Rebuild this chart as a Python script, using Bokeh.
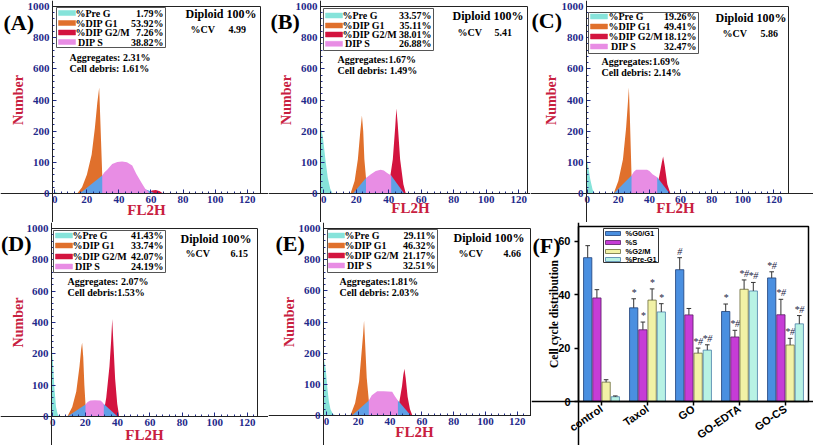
import numpy as np
from bokeh.plotting import figure
from bokeh.layouts import row, column
from bokeh.models import Label, BoxAnnotation, FixedTicker, ColumnDataSource
from bokeh.core.properties import value
from bokeh.embed import file_html
from bokeh.resources import INLINE

SERIF = "Liberation Serif"
SANS = "Liberation Sans"

# ---------------- data ----------------
# histogram y-axis: equally spaced ticks carrying these counts
Y_TICK_COUNTS = [0, 100, 200, 400, 600, 800, 1000]
X_TICKS = [0, 20, 40, 60, 80, 100, 120]

# Panel A
A_PREG_X = [0, 1, 2.5]
A_PREG_N = [6, 3, 0]
A_G1_X = [14, 17, 20, 23, 25, 26.5, 27.7, 28.3, 29.6]
A_G1_N = [0, 20, 60, 125, 220, 380, 480, 300, 58]
A_G2_X = [58.6, 60.5, 63, 65.5, 67.5]
A_G2_N = [0, 10, 11, 7, 0]
A_BASE_X = [15.5, 29.6, 58.6, 62.5]
A_BASE_N = [0, 58, 10, 0]
A_S_X = [29.6, 31, 32.7, 35.8, 39, 42, 45, 48.3, 50.8, 53.9, 56.4, 58.6]
A_S_N = [58, 68, 76, 95, 101, 103, 100, 90, 63, 36, 15, 6]

# Panel B
B_PREG_X = [-2, -0.5, 1, 2.5, 4, 5.5]
B_PREG_N = [235, 180, 110, 50, 15, 0]
B_G1_X = [16.5, 19, 21, 22.5, 23.5, 24.3, 25, 26]
B_G1_N = [0, 40, 110, 200, 300, 200, 110, 50]
B_G2_X = [38, 40.5, 42.5, 44, 44.7, 45.5, 47, 49, 50.5]
B_G2_N = [0, 40, 110, 230, 345, 250, 110, 30, 0]
B_BASE_X = [18, 26, 41.5, 49.5]
B_BASE_N = [0, 50, 58, 0]
B_S_X = [26, 29, 32, 35, 37, 39, 41.5]
B_S_N = [50, 62, 72, 76, 74, 66, 58]

# Panel C
C_PREG_X = [-0.5, 0.5, 2, 3.5, 5]
C_PREG_N = [120, 90, 45, 12, 0]
C_G1_X = [17, 20, 23, 25, 26, 26.8, 27.4, 28.5]
C_G1_N = [0, 40, 110, 220, 360, 480, 300, 58]
C_G2_X = [44, 46.5, 48, 48.8, 49.8, 51.5, 53.5]
C_G2_N = [0, 60, 100, 119, 90, 30, 0]
C_BASE_X = [17, 28.5, 45, 53]
C_BASE_N = [0, 58, 52, 0]
C_S_X = [28.5, 30, 31.5, 35, 38.5, 40, 42, 45]
C_S_N = [58, 70, 76, 76, 76, 72, 62, 52]

# Panel D
D_PREG_X = [-0.8, 0, 1, 2, 3, 4]
D_PREG_N = [270, 180, 90, 30, 8, 0]
D_G1_X = [9, 12, 14.5, 16.5, 17.5, 18.1, 18.8, 19.5, 20.2]
D_G1_N = [0, 30, 80, 160, 230, 272, 190, 100, 38]
D_G2_X = [31, 33, 35, 36, 36.7, 37.5, 38.5, 39.8, 41]
D_G2_N = [0, 60, 160, 280, 422, 250, 120, 40, 0]
D_BASE_X = [9, 20.2, 31.5, 40]
D_BASE_N = [0, 38, 40, 0]
D_S_X = [20.2, 21.5, 23.2, 26, 29.4, 30.5, 31.5]
D_S_N = [38, 46, 51, 52, 51, 46, 40]

# Panel E
E_PREG_X = [-1.9, -0.5, 0.5, 1.5, 2.5, 4, 6]
E_PREG_N = [185, 150, 90, 45, 20, 5, 0]
E_G1_X = [15, 18, 20.5, 22, 23, 23.6, 24.3, 25.3, 26.6]
E_G1_N = [0, 40, 110, 200, 320, 410, 260, 120, 48]
E_G2_X = [44, 46, 47.5, 48.3, 49, 49.8, 51, 52.5, 54]
E_G2_N = [0, 50, 95, 130, 150, 120, 60, 20, 0]
E_BASE_X = [16, 26.6, 44.9, 53]
E_BASE_N = [0, 48, 48, 0]
E_S_X = [26.6, 28.5, 31.9, 36, 41.3, 43, 44.9]
E_S_N = [48, 65, 78, 78, 76, 62, 48]

LEGEND_NAMES = ["%Pre G", "%DIP G1", "%DIP G2/M", "\u00a0DIP S"]
A_PCT = ["1.79%", "53.92%", "7.26%", "38.82%"]
B_PCT = ["33.57%", "35.11%", "38.01%", "26.88%"]
C_PCT = ["19.26%", "49.41%", "18.12%", "32.47%"]
D_PCT = ["41.43%", "33.74%", "42.07%", "24.19%"]
E_PCT = ["29.11%", "46.32%", "21.17%", "32.51%"]
CV_VALUES = ["4.99", "5.41", "5.86", "6.15", "4.66"]
AGG_TEXT = ["Aggregates: 2.31%", "Aggregates:1.67%", "Aggregates:1.69%", "Aggregates: 2.07%", "Aggregates:1.81%"]
DEBRIS_TEXT = ["Cell debris: 1.61%", "Cell debris: 1.49%", "Cell debris: 2.14%", "Cell debris:1.53%", "Cell debris: 2.03%"]

# Panel F
CATS = ["control", "Taxol", "GO", "GO-EDTA", "GO-CS"]
SERIES = ["%G0/G1", "%S", "%G2/M", "%Pre-G1"]
G0G1 = [53.92, 35.11, 49.41, 33.74, 46.32]
S_PH = [38.82, 26.88, 32.47, 24.19, 32.51]
G2M = [7.26, 38.01, 18.12, 42.07, 21.17]
PREG1 = [1.79, 33.57, 19.26, 41.43, 29.11]
G0G1_ERR = [4.5, 3.4, 4.5, 2.8, 2.3]
S_ERR = [3.1, 2.9, 2.4, 2.5, 5.8]
G2M_ERR = [0.9, 4.2, 1.9, 3.5, 2.5]
PREG1_ERR = [0.3, 3.1, 2.0, 3.2, 3.1]
G0G1_SIG = ["", "*", "#", "*", "*#"]
S_SIG = ["", "*", "", "*#", "*#"]
G2M_SIG = ["", "*", "*#", "*#", "*#"]
PREG1_SIG = ["", "*", "*#", "*#", "*#"]
F_Y_TICKS = [0, 20, 40, 60]

# ---------------- style ----------------
C_PREG = "#86e3da"
C_G1 = "#e0702c"
C_G2 = "#d3143f"
C_BASE = "#5fa0e6"
C_S = "#e88de4"
NAVY = "#1f2a8a"
CRIMSON = "#c8203f"
BAR_COLORS = ["#4a8fe0", "#c63cd6", "#f2f2a6", "#b8f2e4"]
BAR_LINES = ["#1d3f78", "#5a1a66", "#6b6b3a", "#4a7fa8"]


def disp(n):
    return np.interp(n, Y_TICK_COUNTS, np.arange(len(Y_TICK_COUNTS)))


def make_fig(canvas, box_px, xr_box, yr_box):
    """Figure whose frame is the whole canvas; the plotting box is a sub-region."""
    cx, cy, cw, ch = canvas
    bl, bt, br, bb = box_px
    xs, xe = xr_box
    ys, ye = yr_box
    ux = (xe - xs) / (br - bl)
    uy = (ye - ys) / (bb - bt)
    x_range = (xs - (bl - cx) * ux, xe + (cx + cw - br) * ux)
    y_range = (ys - (cy + ch - bb) * uy, ye + (bt - cy) * uy)
    p = figure(width=cw, height=ch, x_range=x_range, y_range=y_range,
               min_border_left=0, min_border_right=0, min_border_top=0, min_border_bottom=0,
               output_backend="svg", toolbar_location=None)
    p.grid.visible = False
    p.outline_line_color = None
    p.background_fill_color = "white"
    p.border_fill_color = "white"
    p.xaxis.fixed_location = ys
    p.yaxis.fixed_location = xs
    return p


def put(p, canvas, ax, ay, text, size, font=SERIF, color="black", align="left",
        baseline="middle", angle=0.0, style="bold"):
    cx, cy, cw, ch = canvas
    p.add_layout(Label(x=ax - cx, y=cy + ch - ay, x_units="screen", y_units="screen",
                       text=text, text_font=font, text_font_size=f"{size}px",
                       text_font_style=style, text_color=color, text_align=align,
                       text_baseline=baseline, angle=angle))


def box(p, canvas, x0, y0, x1, y1, fill, line="#555555", lw=1):
    cx, cy, cw, ch = canvas
    p.add_layout(BoxAnnotation(left=x0 - cx, right=x1 - cx, top=cy + ch - y0, bottom=cy + ch - y1,
                               left_units="screen", right_units="screen",
                               top_units="screen", bottom_units="screen",
                               fill_color=fill, fill_alpha=1, line_color=line, line_width=lw,
                               line_alpha=1))


def hist_panel(canvas, box_px, xr, comps, pct, idx, letter, lay):
    p = make_fig(canvas, box_px, xr, (0, 6))
    preg_x, preg_n, g1_x, g1_n, g2_x, g2_n, base_x, base_n, s_x, s_n = comps
    p.varea(x=g1_x, y1=0, y2=disp(g1_n), fill_color=C_G1)
    p.varea(x=g2_x, y1=0, y2=disp(g2_n), fill_color=C_G2)
    p.varea(x=base_x, y1=0, y2=disp(base_n), fill_color=C_BASE)
    p.varea(x=s_x, y1=0, y2=disp(s_n), fill_color=C_S)
    p.varea(x=preg_x, y1=0, y2=disp(preg_n), fill_color=C_PREG)
    # plot box outline
    p.add_layout(BoxAnnotation(left=xr[0], right=xr[1], bottom=0, top=6, fill_alpha=0,
                               line_color="#222222", line_width=1, line_alpha=1))

    p.xaxis.ticker = FixedTicker(ticks=X_TICKS, minor_ticks=list(range(0, 128, 4)))
    p.yaxis.ticker = FixedTicker(ticks=list(range(7)),
                                 minor_ticks=[round(v, 2) for v in np.arange(0, 6.01, 0.2)])
    p.yaxis.major_label_overrides = {i: str(v) for i, v in enumerate(Y_TICK_COUNTS)}
    for ax in (p.xaxis[0], p.yaxis[0]):
        ax.axis_line_color = "#222222"
        ax.major_tick_in = 4
        ax.major_tick_out = 0
        ax.minor_tick_in = 2
        ax.minor_tick_out = 0
        ax.major_tick_line_color = NAVY
        ax.minor_tick_line_color = NAVY
        ax.major_label_text_font = SERIF
        ax.major_label_text_font_style = "bold"
        ax.major_label_text_font_size = "11px"
        ax.major_label_text_color = NAVY
    p.xaxis.major_label_standoff = 2
    p.yaxis.major_label_standoff = 3

    (bx0, by0, bx1, by1), (sw0, sw1), rows, text_x, val_r, dip, cvp, cvv, agg, deb, numx, fl2h, lett = lay
    box(p, canvas, bx0, by0, bx1, by1, "white")
    for i, (nm, col) in enumerate(zip(LEGEND_NAMES, [C_PREG, C_G1, C_G2, C_S])):
        y = rows[i]
        box(p, canvas, sw0, y - 2.5, sw1, y + 2.5, col, line=col, lw=0.5)
        put(p, canvas, text_x, y, nm, 10)
        put(p, canvas, val_r, y, pct[i], 10, align="right")
    put(p, canvas, dip[0], dip[1], "Diploid 100%", 12)
    put(p, canvas, cvp[0], cvp[1], "%CV", 10)
    put(p, canvas, cvv[0], cvv[1], CV_VALUES[idx], 10)
    put(p, canvas, agg[0], agg[1], AGG_TEXT[idx], 10)
    put(p, canvas, deb[0], deb[1], DEBRIS_TEXT[idx], 10)
    put(p, canvas, numx, (box_px[1] + box_px[3]) / 2, "Number", 14, color=CRIMSON,
        align="center", angle=np.pi / 2)
    put(p, canvas, fl2h[0], fl2h[1], "FL2H", 15, color=CRIMSON, align="center")
    put(p, canvas, lett[0], lett[1], letter, 22)
    return p


pa = hist_panel((0, 0, 268, 222), (52, 6, 260, 193), (-1.43, 128.3),
                (A_PREG_X, A_PREG_N, A_G1_X, A_G1_N, A_G2_X, A_G2_N, A_BASE_X, A_BASE_N, A_S_X, A_S_N),
                A_PCT, 0, "(A)",
                ((56, 7, 165, 47), (58, 75), [12.5, 22.5, 32, 41.5], 75, 163,
                 (185, 13), (190, 29), (228, 29), (69, 57), (69, 68), 18, (146, 209), (3, 22)))
pb = hist_panel((268, 0, 262, 222), (320, 6, 527, 193), (-2.0, 125.4),
                (B_PREG_X, B_PREG_N, B_G1_X, B_G1_N, B_G2_X, B_G2_N, B_BASE_X, B_BASE_N, B_S_X, B_S_N),
                B_PCT, 1, "(B)",
                ((323, 8, 433, 50), (325, 342), [15, 25, 34, 43.3], 342, 431,
                 (452, 15), (457, 32), (494, 32), (337, 59), (337, 70), 286, (410, 207), (270, 21)))
pc = hist_panel((530, 0, 283, 222), (586, 6, 788, 193), (-0.45, 129.4),
                (C_PREG_X, C_PREG_N, C_G1_X, C_G1_N, C_G2_X, C_G2_N, C_BASE_X, C_BASE_N, C_S_X, C_S_N),
                C_PCT, 2, "(C)",
                ((588, 12, 698, 53), (590, 607), [16, 26, 36, 46], 608, 696,
                 (715, 17), (722, 33), (760, 33), (601, 61), (601, 72), 551, (675, 207.5), (531, 20)))
pd = hist_panel((0, 222, 268, 223), (51, 228, 257, 416), (-0.8, 126.4),
                (D_PREG_X, D_PREG_N, D_G1_X, D_G1_N, D_G2_X, D_G2_N, D_BASE_X, D_BASE_N, D_S_X, D_S_N),
                D_PCT, 3, "(D)",
                ((53, 230, 165, 272), (55, 72), [235, 245, 256, 266], 72, 163,
                 (180, 238), (185, 253), (230, 253), (67, 281), (67, 292), 17.5, (144, 434), (0.5, 243)))
pe = hist_panel((268, 222, 263, 223), (323, 228, 530, 415), (-1.9, 128.3),
                (E_PREG_X, E_PREG_N, E_G1_X, E_G1_N, E_G2_X, E_G2_N, E_BASE_X, E_BASE_N, E_S_X, E_S_N),
                E_PCT, 4, "(E)",
                ((327, 229, 437, 272), (328, 344), [235, 245, 255, 265], 344, 435,
                 (453, 237), (458, 253), (503, 253), (339, 281), (339, 292), 289, (414, 431.5), (275, 243)))

# ---------------- panel F ----------------
canF = (531, 222, 282, 223)
pf = make_fig(canF, (578, 226, 808, 401), (-0.5, len(CATS) - 0.5), (0, 65.6))
pf.add_layout(BoxAnnotation(left=-0.5, right=len(CATS) - 0.5, bottom=0, top=65.6, fill_alpha=0,
                            line_color="black", line_width=1.5, line_alpha=1))
gx = np.arange(len(CATS))
offsets = [-0.3, -0.1, 0.1, 0.3]
for k, (vals, errs, sigs) in enumerate([(G0G1, G0G1_ERR, G0G1_SIG), (S_PH, S_ERR, S_SIG),
                                         (G2M, G2M_ERR, G2M_SIG), (PREG1, PREG1_ERR, PREG1_SIG)]):
    xs = gx + offsets[k]
    hi = [v + e for v, e in zip(vals, errs)]
    src = ColumnDataSource(dict(x=xs, top=vals, hi=hi, sig=sigs,
                                cl=xs - 0.05, cr=xs + 0.05))
    pf.vbar(x="x", top="top", width=0.18, source=src,
            fill_color=BAR_COLORS[k], line_color=BAR_LINES[k], line_width=0.8)
    pf.segment(x0="x", y0="top", x1="x", y1="hi", source=src, line_color="#333333", line_width=1)
    pf.segment(x0="cl", y0="hi", x1="cr", y1="hi", source=src, line_color="#333333", line_width=1)
    pf.text(x="x", y="hi", text="sig", source=src, text_align="center", text_baseline="bottom",
            y_offset=-1, text_font=value(SERIF), text_font_style="italic", text_font_size="10px",
            text_color="#222244")

pf.yaxis.ticker = FixedTicker(ticks=F_Y_TICKS)
pf.xaxis.ticker = FixedTicker(ticks=list(gx))
pf.xaxis.major_label_overrides = {int(i): c for i, c in zip(gx, CATS)}
for ax in (pf.xaxis[0], pf.yaxis[0]):
    ax.axis_line_color = "black"
    ax.axis_line_width = 1.5
    ax.major_tick_line_width = 1.5
    ax.major_tick_in = 0
    ax.major_tick_out = 4
    ax.minor_tick_line_color = None
    ax.major_label_text_font = SANS
    ax.major_label_text_font_style = "bold"
    ax.major_label_text_font_size = "11px"
    ax.major_label_text_color = "black"
pf.xaxis.major_label_orientation = 0.6
pf.xaxis.major_label_standoff = 2
pf.yaxis.major_label_standoff = 4

put(pf, canF, 553, (226 + 401) / 2, "Cell cycle distribution", 11.5, align="center", angle=np.pi / 2)
put(pf, canF, 532, 245, "(F)", 22)
box(pf, canF, 603, 228, 658, 262, "white", line="#333333", lw=1)
for k, (nm, yy) in enumerate(zip(SERIES, [233, 242, 251, 259])):
    box(pf, canF, 605, yy - 2, 620, yy + 2, BAR_COLORS[k], line=BAR_LINES[k], lw=0.8)
    put(pf, canF, 625, yy, nm, 7.5, font=SANS)

layout = column(row(pa, pb, pc), row(pd, pe, pf))
open("out.html", "w").write(file_html(layout, INLINE))
